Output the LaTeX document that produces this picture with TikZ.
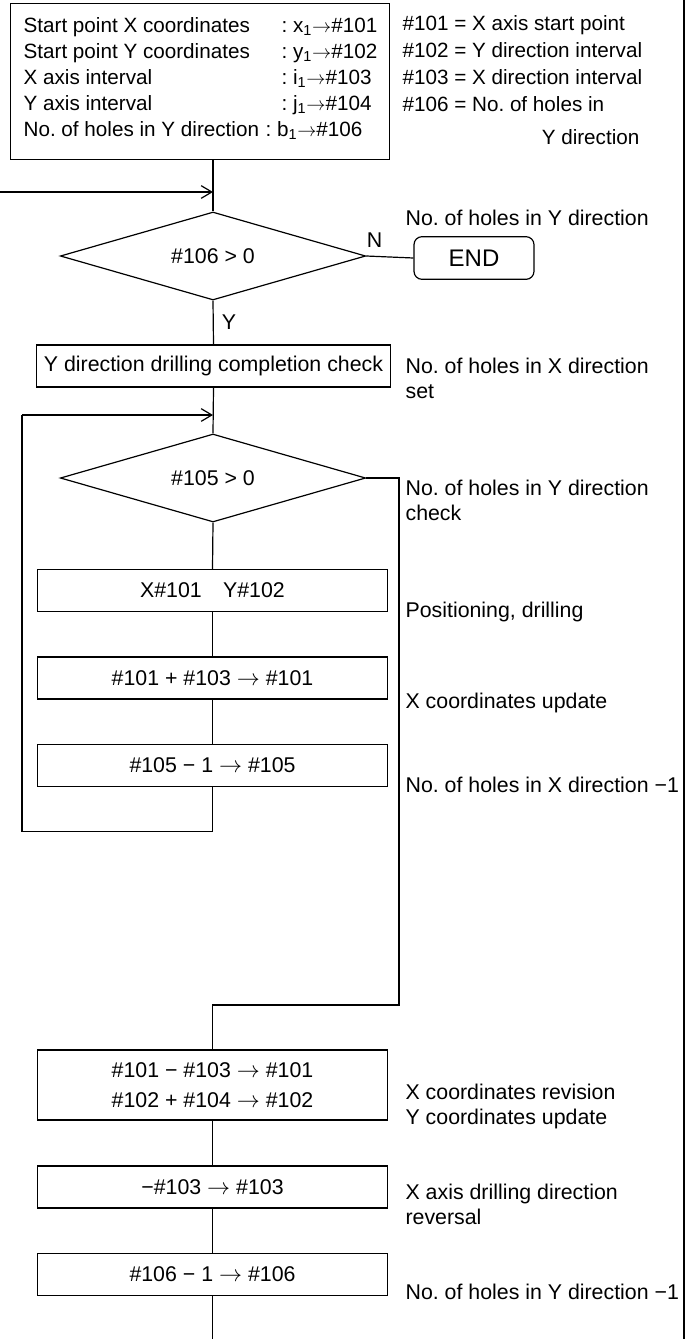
\documentclass[tikz,border=0pt]{standalone}
\usepackage{fontspec}
\setmainfont{Liberation Sans}
\usetikzlibrary{shapes.geometric,arrows.meta}

\newcommand{\gives}{\ensuremath{\rightarrow}}

\tikzset{
  procbox/.style={draw, minimum width=263pt, minimum height=31.5pt, inner sep=0pt},
  decide/.style={draw, diamond, aspect=3.45, minimum width=229pt, minimum height=66pt, inner sep=0pt},
  note/.style={anchor=west, align=left, inner sep=0pt},
  param/.style={anchor=base west, inner sep=0pt},
  arr/.style={-{Straight Barb[length=8pt,width=9.5pt]}},
}

\begin{document}
\begin{tikzpicture}[x=0.75pt, y=-0.75pt, line width=0.9pt,
    font=\frenchspacing\fontsize{16}{18.75}\selectfont]
  \useasboundingbox (0,0) rectangle (685,1339);
  % header: parameters handed to the macro
  \node[draw, anchor=north west, minimum width=284pt, minimum height=117pt, inner sep=0pt] (init) at (10,3) {};
  \begin{scope}[font=\frenchspacing\fontsize{15.5}{18.75}\selectfont]
    \node[param] (p1) at (23,32) {Start point X coordinates};
    \node[param] (p2) at (23,58) {Start point Y coordinates};
    \node[param] (p3) at (23,84) {X axis interval};
    \node[param] (p4) at (23,110) {Y axis interval};
    \node[param] (p5) at (23,136) {No. of holes in Y direction};
    \node[param] (v1) at (281,32) {: x\textsubscript{1}\gives\#101};
    \node[param] (v2) at (281,58) {: y\textsubscript{1}\gives\#102};
    \node[param] (v3) at (281,84) {: i\textsubscript{1}\gives\#103};
    \node[param] (v4) at (281,110) {: j\textsubscript{1}\gives\#104};
    \node[param] (v5) at (265,136) {: b\textsubscript{1}\gives\#106};
    % meaning of the variables
    \node[param] (c1) at (402,30) {\#101 = X axis start point};
    \node[param] (c2) at (402,57) {\#102 = Y direction interval};
    \node[param] (c3) at (402,84) {\#103 = X direction interval};
    \node[param] (c4) at (402,111) {\#106 = No. of holes in};
    \node[anchor=base east, inner sep=0pt] (c5) at (640,144) {Y direction};
  \end{scope}
  % outer loop: Y direction
  \coordinate (entry) at (0,192);
  \node[decide] (d1) at (213,256) {\#106 > 0};
  \node[draw, rounded corners=6pt, minimum width=90pt, minimum height=32pt, inner sep=0pt,
    font=\fontsize{18}{20}\selectfont] (fin) at (474,258) {END};
  \node[note] (t1) at (405,218) {No. of holes in Y direction};
  \node[procbox, minimum width=266pt] (chk) at (213.5,366) {Y direction drilling completion check};
  \node[note] (t2) at (405,378) {No. of holes in X direction\\set};
  % inner loop: X direction
  \coordinate (loopL) at (22,415);
  \node[decide] (d2) at (213,478) {\#105 > 0};
  \node[note] (t3) at (405,500) {No. of holes in Y direction\\check};
  \node[procbox] (bA) at (212.5,590.5) {X\#101\quad Y\#102};
  \node[note] (t4) at (405,612) {Positioning, drilling};
  \node[procbox] (bB) at (212.5,678) {\#101 + \#103 \gives\ \#101};
  \node[note] (t5) at (405,703) {X coordinates update};
  \node[procbox] (bC) at (212.5,765.5) {\#105 − 1 \gives\ \#105};
  \node[note] (t6) at (405,785) {No. of holes in X direction −1};
  % next row
  \coordinate (exitR) at (399,1005);
  \node[procbox, minimum height=52.5pt, align=center, font=\fontsize{16}{22.5}\selectfont] (bD) at (212.5,1085)
    {\#101 − \#103 \gives\ \#101\\\#102 + \#104 \gives\ \#102};
  \node[note] (t7) at (405,1106) {X coordinates revision\\Y coordinates update};
  \node[procbox] (bE) at (212.5,1187) {−\#103 \gives\ \#103};
  \node[note] (t8) at (405,1204.5) {X axis drilling direction\\reversal};
  \node[procbox] (bF) at (212.5,1274.5) {\#106 − 1 \gives\ \#106};
  \node[note] (t9) at (405,1292) {No. of holes in Y direction −1};
  \coordinate (tail) at (212.5,1339);
  \coordinate (edgeT) at (684,0);
  \coordinate (edgeB) at (684,1339);

  % connectors
  \draw[arr] (entry) -- (entry -| d1.north);
  \draw (d1.north |- init.south) -- (d1.north);
  \draw (d1.east) -- (fin.west) node[pos=0, anchor=south west, inner sep=0pt, yshift=6pt] (lN) {N};
  \draw (d1.south) -- node[right, inner sep=6pt] (lY) {Y} (chk.north);
  \draw (chk.south) -- (d2.north);
  \draw[arr] (loopL) -- (loopL -| d2.north);
  \draw (d2.south) -- (bA.north);
  \draw (bA.south) -- (bB.north);
  \draw (bB.south) -- (bC.north);
  \draw (bC.south) -- ++(0,44) -| (loopL);
  \draw (d2.east) -| (exitR) -| (bD.north);
  \draw (bD.south) -- (bE.north);
  \draw (bE.south) -- (bF.north);
  \draw (bF.south) -- (tail);
  \draw (edgeT) -- (edgeB);
\end{tikzpicture}
\end{document}
